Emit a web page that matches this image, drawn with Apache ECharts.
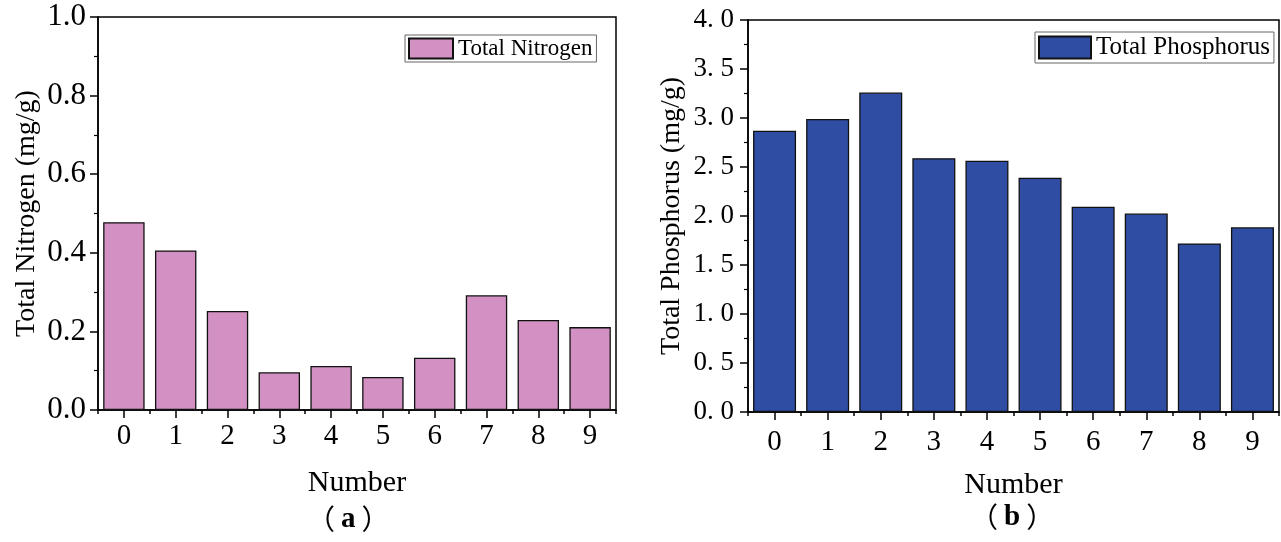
<!DOCTYPE html>
<html>
<head>
<meta charset="utf-8">
<script src="https://cdn.jsdelivr.net/npm/echarts@6/dist/echarts.min.js"></script>
<style>
  html, body { margin: 0; padding: 0; background: #fff; }
  #chart { width: 1281px; height: 542px; }
</style>
</head>
<body>
<div id="chart"></div>
<script>
// data
const numbers = ["0", "1", "2", "3", "4", "5", "6", "7", "8", "9"];
const nitrogen = [0.478, 0.406, 0.252, 0.096, 0.112, 0.084, 0.133, 0.292, 0.229, 0.211];
const phosphorus = [2.87, 2.99, 3.26, 2.59, 2.565, 2.39, 2.095, 2.025, 1.72, 1.885];

const SERIF = "Liberation Serif";
const CJK = "Noto Sans CJK SC";
const PINK = "#d291c2";
const BLUE = "#2f4ea3";

const chart = echarts.init(document.getElementById("chart"), null, { renderer: "canvas" });

function boundaryAxis(grid, labelMargin)
{
    return {
        type: "category",
        gridIndex: grid,
        data: numbers,
        position: "bottom",
        axisLine: { lineStyle: { color: "#000", width: 1.5 } },
        axisTick: { show: true, length: 4, lineStyle: { color: "#000", width: 1.5 } },
        axisLabel: { color: "#000", fontFamily: SERIF, fontSize: 29, margin: labelMargin },
        name: "Number",
        nameLocation: "middle",
        nameGap: 58,
        nameTextStyle: { color: "#000", fontFamily: SERIF, fontSize: 30 }
    };
}

function centerTickAxis(grid)
{
    return {
        type: "category",
        gridIndex: grid,
        data: numbers,
        position: "bottom",
        axisLine: { show: false },
        axisTick: { show: true, alignWithLabel: true, length: 8, lineStyle: { color: "#000", width: 1.5 } },
        axisLabel: { show: false }
    };
}

function valueAxis(grid, max, interval, name, gap, fmt, labelSize, labelMargin)
{
    return {
        type: "value",
        gridIndex: grid,
        min: 0,
        max: max,
        interval: interval,
        splitLine: { show: false },
        axisLine: { show: true, lineStyle: { color: "#000", width: 1.5 } },
        axisTick: { show: true, length: 8, lineStyle: { color: "#000", width: 1.5 } },
        minorTick: { show: true, splitNumber: 2, length: 4, lineStyle: { color: "#000", width: 1.2 } },
        axisLabel: { color: "#000", fontFamily: SERIF, fontSize: labelSize, margin: labelMargin, formatter: fmt },
        name: name,
        nameLocation: "middle",
        nameRotate: 90,
        nameGap: gap,
        nameTextStyle: { color: "#000", fontFamily: SERIF, fontSize: 28 }
    };
}

// "（a）" under each panel; full-width parens from the CJK font
function panelLabel(letter, cx, top)
{
    return {
        type: "text", left: cx - 43, top: top,
        style: {
            text: "{p|（}{b|" + letter + "}{p|）}",
            rich: {
                p: { fontFamily: CJK, fontSize: 28, fill: "#000" },
                b: { fontWeight: "bold", fontSize: 29, fontFamily: SERIF, fill: "#000", padding: [0, 6, 0, 6] }
            }
        }
    };
}

const option = {
    backgroundColor: "#fff",
    animation: false,
    grid: [
        { left: 98, top: 17, width: 518, height: 393, show: true, borderColor: "#000", borderWidth: 1.5 },
        { left: 748, top: 20, width: 531, height: 392, show: true, borderColor: "#000", borderWidth: 1.5 }
    ],
    legend: [
        {
            data: ["Total Nitrogen"],
            icon: "rect",
            left: 405, top: 35,
            itemWidth: 44, itemHeight: 20, itemGap: 6,
            padding: [2, 4, 2, 3],
            borderColor: "#666", borderWidth: 1,
            textStyle: { color: "#000", fontFamily: SERIF, fontSize: 23 }
        },
        {
            data: ["Total Phosphorus"],
            icon: "rect",
            left: 1035, top: 32,
            itemWidth: 52, itemHeight: 22, itemGap: 6,
            padding: [3, 4, 3, 3],
            borderColor: "#666", borderWidth: 1,
            textStyle: { color: "#000", fontFamily: SERIF, fontSize: 25 }
        }
    ],
    xAxis: [
        boundaryAxis(0, 12),
        centerTickAxis(0),
        boundaryAxis(1, 16),
        centerTickAxis(1)
    ],
    yAxis: [
        valueAxis(0, 1.0, 0.2, "Total Nitrogen (mg/g)", 57, function (v) { return v.toFixed(1); }, 31, 12),
        valueAxis(1, 4.0, 0.5, "Total Phosphorus (mg/g)", 62, function (v) { return v.toFixed(1).replace(".", ". "); }, 27, 14)
    ],
    series: [
        {
            name: "Total Nitrogen",
            type: "bar",
            xAxisIndex: 0,
            yAxisIndex: 0,
            data: nitrogen,
            barWidth: "80%",
            itemStyle: { color: PINK, borderColor: "#111", borderWidth: 1.3 }
        },
        {
            name: "Total Phosphorus",
            type: "bar",
            xAxisIndex: 2,
            yAxisIndex: 1,
            data: phosphorus,
            barWidth: "81%",
            itemStyle: { color: BLUE, borderColor: "#111", borderWidth: 1.3 }
        }
    ],
    graphic: [
        panelLabel("a", 350, 505),
        panelLabel("b", 1013, 503)
    ]
};

chart.setOption(option);
</script>
</body>
</html>
